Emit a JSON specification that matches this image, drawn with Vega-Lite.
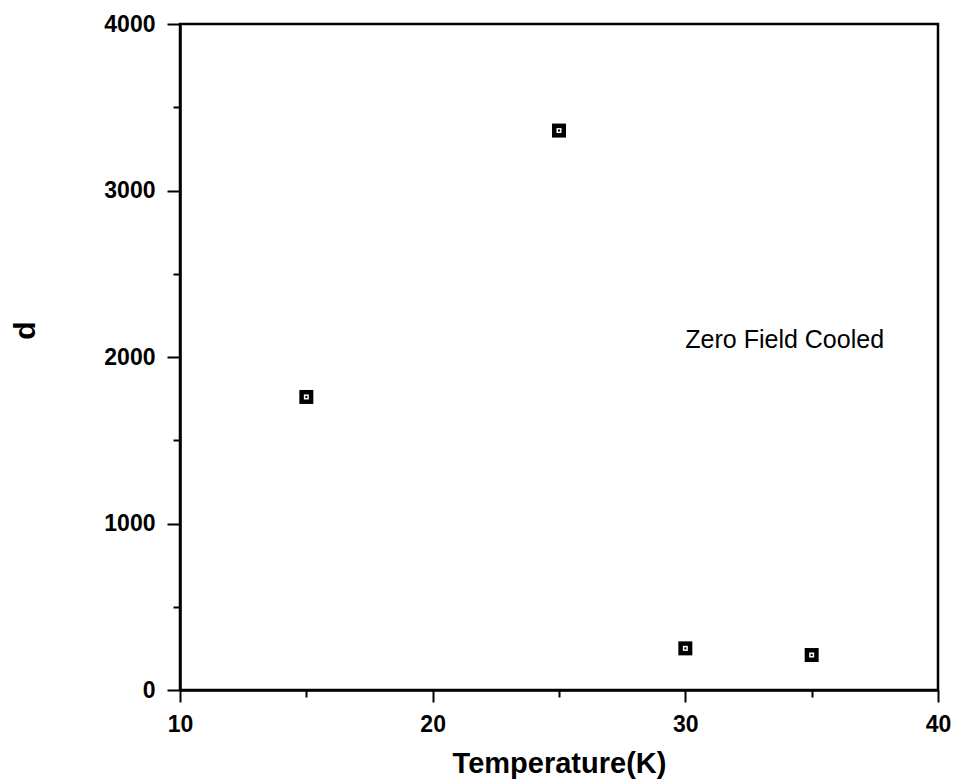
{
  "$schema": "https://vega.github.io/schema/vega-lite/v6.json",
  "width": 758,
  "height": 666,
  "autosize": {"type": "none"},
  "padding": {"left": 180, "top": 24, "right": 22, "bottom": 90},
  "background": "white",
  "config": {
    "font": "Liberation Sans",
    "view": {"stroke": "black", "strokeWidth": 2.5},
    "axis": {
      "domainColor": "black",
      "domainWidth": 2.5,
      "tickColor": "black",
      "tickWidth": 2,
      "grid": false,
      "labelColor": "black",
      "titleColor": "black",
      "labelFlush": false
    }
  },
  "data": {
    "values": [
      {"temperature": 15, "d": 1760},
      {"temperature": 25, "d": 3360},
      {"temperature": 30, "d": 250},
      {"temperature": 35, "d": 210}
    ]
  },
  "encoding": {
    "x": {
      "field": "temperature",
      "type": "quantitative",
      "scale": {"domain": [10, 40], "nice": false, "zero": false},
      "axis": {
        "title": "Temperature(K)",
        "values": [10, 15, 20, 25, 30, 35, 40],
        "labelExpr": "datum.value % 10 === 0 ? datum.label : ''",
        "tickSize": {"condition": {"test": "datum.value % 10 === 0", "value": 12}, "value": 7},
        "labelPadding": 11,
        "labelFontSize": 23,
        "labelFontWeight": "bold",
        "titleFontSize": 29,
        "titleFontWeight": "bold",
        "titlePadding": 13
      }
    },
    "y": {
      "field": "d",
      "type": "quantitative",
      "scale": {"domain": [0, 4000], "nice": false},
      "axis": {
        "title": "d",
        "values": [0, 500, 1000, 1500, 2000, 2500, 3000, 3500, 4000],
        "labelExpr": "datum.value % 1000 === 0 ? datum.label : ''",
        "format": "d",
        "tickSize": {"condition": {"test": "datum.value % 1000 === 0", "value": 13}, "value": 7},
        "labelPadding": 12,
        "labelFontSize": 23,
        "labelFontWeight": "bold",
        "titleFontSize": 30,
        "titleFontWeight": "bold",
        "titleAngle": -90,
        "titleBaseline": "middle",
        "titleAlign": "center",
        "titleX": -155,
        "titleY": 306
      }
    }
  },
  "layer": [
    {"mark": {"type": "square", "color": "black", "filled": true, "opacity": 1, "size": 196}},
    {"mark": {"type": "square", "color": "white", "filled": true, "opacity": 1, "size": 25}},
    {"mark": {"type": "square", "color": "black", "filled": true, "opacity": 1, "size": 4}},
    {
      "data": {"values": [{"temperature": 30, "d": 2100, "label": "Zero Field Cooled"}]},
      "mark": {"type": "text", "align": "left", "baseline": "middle", "fontSize": 25, "color": "black"},
      "encoding": {"text": {"field": "label"}}
    }
  ]
}
